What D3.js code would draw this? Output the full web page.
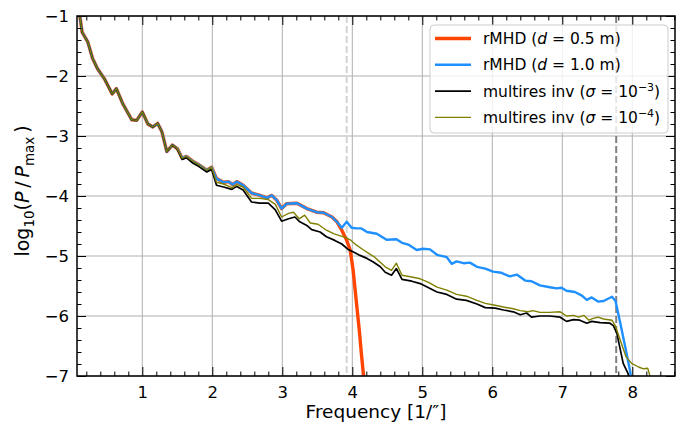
<!DOCTYPE html>
<html><head><meta charset="utf-8">
<script src="https://cdn.jsdelivr.net/npm/d3@7"></script>
<style>body{margin:0;background:#fff}svg{display:block}text{font-family:"DejaVu Sans",sans-serif}</style>
</head><body><svg id="c" width="677" height="428"></svg>
<script>
// ---------- data (frequency [1/"], log10(P/Pmax)) ----------
const lowFreq = [0.09,0.14,0.22,0.29,0.36,0.46,0.57,0.63,0.72,0.85,0.92,1.00,1.08,1.15,1.22,1.28,1.35,1.43,1.50,1.57,1.63,1.72,1.81,1.92,1.99];
const lowLogP = [-0.85,-1.27,-1.43,-1.71,-1.88,-2.05,-2.30,-2.21,-2.46,-2.73,-2.74,-2.60,-2.80,-2.85,-2.79,-2.93,-3.26,-3.15,-3.21,-3.37,-3.34,-3.42,-3.48,-3.57,-3.52];
const lowLogPBlack = [-0.85,-1.27,-1.43,-1.71,-1.88,-2.05,-2.30,-2.21,-2.46,-2.73,-2.74,-2.60,-2.80,-2.85,-2.79,-2.93,-3.26,-3.15,-3.22,-3.39,-3.36,-3.45,-3.51,-3.60,-3.56];

const blueFreq = [2.06,2.16,2.23,2.29,2.35,2.44,2.56,2.66,2.78,2.85,2.92,2.99,3.06,3.21,3.35,3.49,3.59,3.71,3.78,3.85,3.92,3.99,4.06,4.13,4.21,4.35,4.49,4.63,4.71,4.80,4.92,5.01,5.11,5.21,5.35,5.42,5.49,5.59,5.68,5.78,5.90,6.01,6.13,6.25,6.35,6.47,6.56,6.68,6.82,6.92,6.99,7.06,7.18,7.28,7.35,7.42,7.51,7.59,7.71,7.76,7.82,7.90,7.97,8.01];
const blueLogP = [-3.71,-3.77,-3.76,-3.81,-3.76,-3.82,-3.95,-3.98,-4.03,-3.99,-4.07,-4.21,-4.13,-4.12,-4.21,-4.27,-4.28,-4.35,-4.43,-4.53,-4.43,-4.53,-4.54,-4.54,-4.60,-4.63,-4.73,-4.72,-4.78,-4.81,-4.90,-4.88,-4.89,-4.98,-5.02,-5.13,-5.09,-5.12,-5.11,-5.18,-5.21,-5.26,-5.28,-5.34,-5.31,-5.41,-5.42,-5.49,-5.52,-5.54,-5.53,-5.58,-5.60,-5.66,-5.73,-5.69,-5.76,-5.75,-5.68,-5.75,-6.07,-6.52,-6.93,-7.25];

const redFreq = [2.06,2.16,2.23,2.29,2.35,2.44,2.56,2.66,2.78,2.85,2.92,2.99,3.06,3.21,3.35,3.49,3.59,3.71,3.78,3.85,3.90,3.92,3.97,4.01,4.06,4.10,4.13,4.16,4.19];
const redLogP = [-3.71,-3.77,-3.76,-3.81,-3.76,-3.82,-3.95,-3.98,-4.03,-3.99,-4.07,-4.21,-4.13,-4.12,-4.21,-4.27,-4.28,-4.35,-4.43,-4.57,-4.69,-4.74,-4.90,-5.22,-5.79,-6.24,-6.63,-6.99,-7.4];

const blackFreq = [2.06,2.16,2.28,2.35,2.44,2.56,2.68,2.80,2.90,2.99,3.09,3.18,3.25,3.35,3.42,3.54,3.63,3.75,3.85,3.94,4.01,4.11,4.21,4.30,4.40,4.47,4.56,4.63,4.71,4.85,4.97,5.09,5.21,5.35,5.49,5.63,5.78,5.90,6.04,6.16,6.30,6.40,6.49,6.56,6.68,6.82,6.97,7.06,7.16,7.25,7.35,7.42,7.54,7.68,7.73,7.78,7.83,7.87,7.94,7.99];
const blackLogP = [-3.82,-3.85,-3.89,-3.84,-3.90,-4.10,-4.12,-4.12,-4.23,-4.42,-4.38,-4.35,-4.43,-4.49,-4.56,-4.60,-4.68,-4.74,-4.80,-4.89,-4.93,-4.99,-5.04,-5.10,-5.18,-5.27,-5.32,-5.21,-5.39,-5.42,-5.46,-5.53,-5.60,-5.64,-5.72,-5.74,-5.80,-5.86,-5.87,-5.90,-5.93,-5.98,-5.95,-6.02,-6.00,-6.00,-6.02,-6.09,-6.06,-6.07,-6.12,-6.09,-6.11,-6.12,-6.16,-6.29,-6.57,-6.79,-6.96,-7.25];

const oliveFreq = [2.06,2.16,2.28,2.35,2.44,2.56,2.68,2.80,2.90,2.99,3.09,3.16,3.24,3.32,3.40,3.51,3.63,3.74,3.82,3.90,3.97,4.06,4.16,4.25,4.32,4.47,4.56,4.63,4.71,4.85,4.97,5.09,5.21,5.35,5.49,5.63,5.78,5.90,6.04,6.16,6.30,6.40,6.51,6.58,6.68,6.82,6.97,7.06,7.16,7.23,7.31,7.38,7.44,7.51,7.59,7.71,7.76,7.83,7.91,7.99,8.09,8.16,8.22,8.25,8.29];
const oliveLogP = [-3.77,-3.80,-3.86,-3.81,-3.85,-4.04,-4.04,-4.06,-4.14,-4.35,-4.29,-4.27,-4.38,-4.32,-4.45,-4.47,-4.57,-4.63,-4.66,-4.69,-4.73,-4.82,-4.90,-4.97,-5.02,-5.18,-5.24,-5.12,-5.32,-5.35,-5.38,-5.44,-5.52,-5.57,-5.64,-5.67,-5.74,-5.79,-5.82,-5.85,-5.88,-5.91,-5.93,-5.91,-5.94,-5.94,-5.93,-6.00,-5.99,-6.02,-5.99,-6.07,-6.04,-6.02,-6.05,-6.07,-6.17,-6.41,-6.68,-6.79,-6.85,-6.88,-6.87,-6.99,-7.3];

const xTicks = [1,2,3,4,5,6,7,8];
const yTicks = [-1,-2,-3,-4,-5,-6,-7];
const cutoffs = [3.92, 7.77];

// ---------- layout ----------
const W = 677, H = 428;
const m = {l:77, r:2, t:16, b:52};
const svg = d3.select("#c");
const x = d3.scaleLinear().domain([0.067, 8.61]).range([m.l, W - m.r]);
const y = d3.scaleLinear().domain([-7, -1]).range([H - m.b, m.t]);
const pw = W - m.l - m.r, ph = H - m.t - m.b;

svg.append("defs").append("clipPath").attr("id","clip")
  .append("rect").attr("x", m.l).attr("y", m.t).attr("width", pw).attr("height", ph);

// grid
const grid = svg.append("g");
grid.selectAll(".gx").data(xTicks).join("line")
  .attr("x1", d=>x(d)).attr("x2", d=>x(d)).attr("y1", m.t).attr("y2", H-m.b)
  .attr("stroke","#b0b0b0").attr("stroke-width",1);
grid.selectAll(".gy").data(yTicks).join("line")
  .attr("y1", d=>y(d)).attr("y2", d=>y(d)).attr("x1", m.l).attr("x2", W-m.r)
  .attr("stroke","#b0b0b0").attr("stroke-width",1);

// cutoff lines
svg.append("g").selectAll("line").data(cutoffs).join("line")
  .attr("x1", d=>x(d)).attr("x2", d=>x(d)).attr("y1", m.t).attr("y2", H-m.b)
  .attr("stroke",(d,i)=> i===0 ? "#d3d3d3" : "#808080").attr("stroke-width",2)
  .attr("stroke-dasharray","7,3");

// series
function zip(a, b){ return a.map((v,i)=>[v, b[i]]); }
const series = [
  {pts: zip(lowFreq, lowLogP).concat(zip(redFreq, redLogP)), color:"#ff4500", w:3.4},
  {pts: zip(lowFreq, lowLogP).concat(zip(blueFreq, blueLogP)), color:"#1e90ff", w:2.4},
  {pts: zip(lowFreq, lowLogPBlack).concat(zip(blackFreq, blackLogP)), color:"#000000", w:1.7},
  {pts: zip(lowFreq, lowLogP).concat(zip(oliveFreq, oliveLogP)), color:"#808000", w:1.4}
];
const line = d3.line().x(d=>x(d[0])).y(d=>y(d[1]));
svg.append("g").attr("clip-path","url(#clip)").selectAll("path").data(series).join("path")
  .attr("d", d=>line(d.pts)).attr("fill","none")
  .attr("stroke", d=>d.color).attr("stroke-width", d=>d.w).attr("stroke-linejoin","round");

// axes with inward ticks on all four sides
const minorX = d3.range(0.2, 8.61, 0.2).filter(v => Math.abs(v - Math.round(v)) > 1e-6);
const minorY = d3.range(-6.8, -1.0, 0.2).filter(v => Math.abs(v - Math.round(v)) > 1e-6);
function ax(gen, tr, vals, size, labels){
  const g = svg.append("g").attr("transform", tr)
    .call(gen.tickValues(vals).tickSizeInner(-size).tickSizeOuter(0)
      .tickFormat(labels ? (d=>d3.format("d")(d).replace("-","\u2212")) : ""));
  g.select(".domain").remove();
  g.selectAll("line").attr("stroke","#000").attr("stroke-width",1);
  g.selectAll("text").attr("font-size",16.5).attr("fill","#000");
  return g;
}
const bx = ax(d3.axisBottom(x), `translate(0,${H-m.b})`, xTicks, 9, true);
bx.selectAll("text").attr("dy","0").attr("y", 22);
ax(d3.axisBottom(x), `translate(0,${H-m.b})`, minorX, 4.5, false);
ax(d3.axisTop(x), `translate(0,${m.t})`, xTicks, 9, false);
ax(d3.axisTop(x), `translate(0,${m.t})`, minorX, 4.5, false);
const ly = ax(d3.axisLeft(y), `translate(${m.l},0)`, yTicks, 9, true);
ly.selectAll("text").attr("x", -8);
ax(d3.axisLeft(y), `translate(${m.l},0)`, minorY, 4.5, false);
ax(d3.axisRight(y), `translate(${W-m.r},0)`, yTicks, 9, false);
ax(d3.axisRight(y), `translate(${W-m.r},0)`, minorY, 4.5, false);

// frame
svg.append("rect").attr("x", m.l).attr("y", m.t).attr("width", pw).attr("height", ph)
  .attr("fill","none").attr("stroke","#000").attr("stroke-width",1.5);

// axis labels
svg.append("text").attr("x", 376).attr("y", 418).attr("text-anchor","middle")
  .attr("font-size",18.5).text("Frequency [1/\u2033]");
const yl = svg.append("text").attr("transform","translate(29,191) rotate(-90)")
  .attr("text-anchor","middle").attr("font-size",19);
yl.append("tspan").text("log");
yl.append("tspan").attr("font-size",13.5).attr("dy",4.5).text("10");
yl.append("tspan").attr("dy",-4.5).text("(");
yl.append("tspan").attr("font-style","italic").text("P");
yl.append("tspan").text("\u2009/\u2009");
yl.append("tspan").attr("font-style","italic").text("P");
yl.append("tspan").attr("font-size",13.5).attr("dy",4.5).text("max");
yl.append("tspan").attr("dy",-4.5).text("\u2009)");

// legend
const legendItems = [
  {color:"#ff4500", w:3.4, parts:[["rMHD (",""],["d","i"],[" = 0.5 m)",""]]},
  {color:"#1e90ff", w:2.4, parts:[["rMHD (",""],["d","i"],[" = 1.0 m)",""]]},
  {color:"#000000", w:1.7, parts:[["multires inv (",""],["\u03c3","i"],[" = 10",""],["\u22123","s"],[")",""]]},
  {color:"#808000", w:1.4, parts:[["multires inv (",""],["\u03c3","i"],[" = 10",""],["\u22124","s"],[")",""]]}
];
const lg = svg.append("g");
lg.append("rect").attr("x",430).attr("y",25).attr("width",238).attr("height",108).attr("rx",4)
  .attr("fill","#fff").attr("fill-opacity",0.8).attr("stroke","#cccccc").attr("stroke-width",1);
legendItems.forEach((it,i)=>{
  const yy = 38.5 + i*26.3;
  lg.append("line").attr("x1",435).attr("x2",471).attr("y1",yy).attr("y2",yy)
    .attr("stroke",it.color).attr("stroke-width",it.w);
  const t = lg.append("text").attr("x",483).attr("y",yy+5.5).attr("font-size",15.5);
  it.parts.forEach(p=>{
    const s = t.append("tspan").text(p[0]);
    if(p[1]==="i") s.attr("font-style","italic");
    if(p[1]==="s") s.attr("font-size",11).attr("dy",-6);
    if(p[1]==="" && p[0]===")" ) s.attr("dy",6);
  });
});
</script></body></html>
